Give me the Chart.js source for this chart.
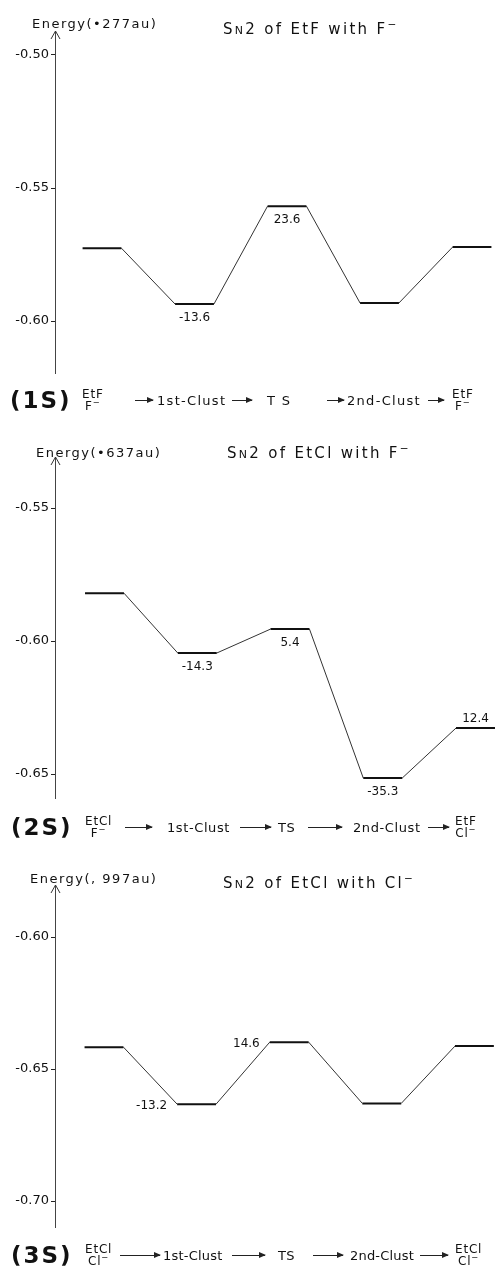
<!DOCTYPE html>
<html>
<head>
<meta charset="utf-8">
<script src="https://cdn.jsdelivr.net/npm/chart.js@4.4.1/dist/chart.umd.min.js"></script>
<style>
  body { margin: 0; background: #fff; }
  #page { position: relative; width: 495px; height: 1271px; overflow: hidden; font-family: "DejaVu Sans", sans-serif; color: #111; }
  canvas { position: absolute; left: 0; }
  .txt { position: absolute; white-space: nowrap; transform: translateY(-50%); }
  .elabel { font-size: 13px; letter-spacing: 1.5px; }
  .title { font-size: 15px; letter-spacing: 2.3px; }
  .title .sc { font-size: 11px; }
  .title sup, .step sup, .stack sup { font-size: 0.7em; line-height: 0; }
  .tag { font-size: 23px; font-weight: bold; letter-spacing: 2px; }
  .step { font-size: 13px; }
  .stack { font-size: 12px; line-height: 12px; text-align: center; letter-spacing: 0.8px; }
  .arrow { position: absolute; height: 1px; background: #222; }
  .arrow::after { content: ""; position: absolute; right: -1px; top: -3px; border-left: 7px solid #222; border-top: 3.5px solid transparent; border-bottom: 3.5px solid transparent; }
</style>
</head>
<body>
<div id="page"></div>
<script>
//reaction path steps (x categories)
var steps = ['reactants', '1st-Clust', 'TS', '2nd-Clust', 'products'];

//energies (au, offset shown in the axis label)
var energy1 = [-0.5726, -0.5936, -0.5568, -0.5932, -0.5722];
var energy2 = [-0.5820, -0.6045, -0.5955, -0.6515, -0.6327];
var energy3 = [-0.6417, -0.6633, -0.6398, -0.6630, -0.6413];

//relative energies written next to levels (kcal/mol)
var notes1 = ['', '-13.6', '23.6', '', ''];
var notes2 = ['', '-14.3', '5.4', '-35.3', '12.4'];
var notes3 = ['', '-13.2', '14.6', '', ''];

//y tick labels
var ticks1 = [-0.50, -0.55, -0.60];
var ticks2 = [-0.55, -0.60, -0.65];
var ticks3 = [-0.60, -0.65, -0.70];

var FONT = '"DejaVu Sans", sans-serif';
var page = document.getElementById('page');

//panel layout
var panels = [
    { top: 0, height: 420, padTop: 31, padBottom: 47, yMin: -0.6195, yMax: -0.4910, c0: 102, sp: 92.5,
      energy: energy1, notes: notes1, notePos: ['', 'below', 'below', '', ''], ticks: ticks1,
      elabel: 'Energy(•277au)', ey: 23, ex: 32, titleHtml: 'S<span class="sc">N</span>2 of EtF with F<sup>−</sup>', ty: 29, tx: 223,
      rowY: 400, tag: '(1S)', tagX: 10, stepSpacing: 1.3,
      row: [['stack', 82, 'EtF', 'F<sup>−</sup>'], ['arrow', 135, 18], ['step', 157, '1st-Clust'], ['arrow', 232, 20],
            ['step', 267, 'T S'], ['arrow', 327, 17], ['step', 347, '2nd-Clust'], ['arrow', 428, 16], ['stack', 452, 'EtF', 'F<sup>−</sup>']] },
    { top: 420, height: 430, padTop: 37, padBottom: 52, yMin: -0.6590, yMax: -0.5308, c0: 104.5, sp: 92.75,
      energy: energy2, notes: notes2, notePos: ['', 'below', 'below', 'below', 'above'], ticks: ticks2,
      elabel: 'Energy(•637au)', ey: 32, ex: 36, titleHtml: 'S<span class="sc">N</span>2 of EtCl with F<sup>−</sup>', ty: 33, tx: 227,
      rowY: 407, tag: '(2S)', tagX: 11, stepSpacing: 0.6,
      row: [['stack', 85, 'EtCl', 'F<sup>−</sup>'], ['arrow', 125, 27], ['step', 167, '1st-Clust'], ['arrow', 240, 31],
            ['step', 278, 'TS'], ['arrow', 308, 34], ['step', 353, '2nd-Clust'], ['arrow', 428, 21], ['stack', 455, 'EtF', 'Cl<sup>−</sup>']] },
    { top: 850, height: 421, padTop: 35, padBottom: 44, yMin: -0.7098, yMax: -0.5803, c0: 104, sp: 92.6,
      energy: energy3, notes: notes3, notePos: ['', 'left', 'left', '', ''], ticks: ticks3,
      elabel: 'Energy(, 997au)', ey: 28, ex: 30, titleHtml: 'S<span class="sc">N</span>2 of EtCl with Cl<sup>−</sup>', ty: 33, tx: 223,
      rowY: 405, tag: '(3S)', tagX: 11, stepSpacing: 0.2,
      row: [['stack', 85, 'EtCl', 'Cl<sup>−</sup>'], ['arrow', 120, 40], ['step', 163, '1st-Clust'], ['arrow', 232, 33],
            ['step', 278, 'TS'], ['arrow', 313, 30], ['step', 350, '2nd-Clust'], ['arrow', 420, 28], ['stack', 455, 'EtCl', 'Cl<sup>−</sup>']] }
];

var HW = 0.21; //half width of a level, in category units

function addText(cls, x, y, html) {
    var d = document.createElement('div');
    d.className = 'txt ' + cls;
    d.style.left = x + 'px';
    d.style.top = y + 'px';
    d.innerHTML = html;
    page.appendChild(d);
    return d;
}

//arrow at top of the y axis + level annotations
var extrasPlugin = {
    id: 'extras',
    afterDraw: function (chart) {
        var ctx = chart.ctx, a = chart.chartArea;
        var p = chart.options.plugins.extras;
        ctx.save();
        ctx.strokeStyle = '#333';
        ctx.lineWidth = 1;
        ctx.beginPath();
        ctx.moveTo(a.left - 4, a.top + 8);
        ctx.lineTo(a.left + 0.5, a.top);
        ctx.lineTo(a.left + 5, a.top + 8);
        ctx.stroke();

        var xs = chart.scales.x, ys = chart.scales.y;
        ctx.fillStyle = '#111';
        ctx.font = '12px ' + FONT;
        ctx.textBaseline = 'middle';
        for (var i = 0; i < p.notes.length; i++) {
            if (!p.notes[i]) continue;
            var px = xs.getPixelForValue(i), py = ys.getPixelForValue(p.energy[i]);
            if (p.pos[i] == 'below') {
                ctx.textAlign = 'center';
                ctx.fillText(p.notes[i], px, py + 14);
            } else if (p.pos[i] == 'above') {
                ctx.textAlign = 'center';
                ctx.fillText(p.notes[i], px, py - 9);
            } else {
                ctx.textAlign = 'right';
                ctx.fillText(p.notes[i], xs.getPixelForValue(i - HW) - 10, py + 2);
            }
        }
        ctx.restore();
    }
};

panels.forEach(function (pn, k) {
    var canvas = document.createElement('canvas');
    canvas.width = 495;
    canvas.height = pn.height;
    canvas.style.top = pn.top + 'px';
    page.appendChild(canvas);

    //levels: flat segments, connectors: thin slanted lines
    var levels = [], links = [];
    for (var i = 0; i < pn.energy.length; i++) {
        levels.push({ x: i - HW, y: pn.energy[i] }, { x: i + HW, y: pn.energy[i] }, { x: i + HW, y: null });
        if (i < pn.energy.length - 1) {
            links.push({ x: i + HW, y: pn.energy[i] }, { x: i + 1 - HW, y: pn.energy[i + 1] }, { x: i + 1 - HW, y: null });
        }
    }

    var ticks = pn.ticks;
    new Chart(canvas, {
        type: 'scatter',
        data: {
            datasets: [
                { label: 'levels', data: levels, showLine: true, borderColor: '#111', borderWidth: 2, pointRadius: 0, spanGaps: false },
                { label: 'path', data: links, showLine: true, borderColor: '#333', borderWidth: 1, pointRadius: 0, spanGaps: false }
            ]
        },
        options: {
            responsive: false,
            animation: false,
            layout: { padding: { top: pn.padTop, bottom: pn.padBottom, left: 0, right: 0 } },
            plugins: {
                legend: { display: false },
                tooltip: { enabled: false },
                extras: { notes: pn.notes, pos: pn.notePos, energy: pn.energy }
            },
            scales: {
                x: {
                    type: 'linear',
                    display: false,
                    min: (55 - pn.c0) / pn.sp,
                    max: (495 - pn.c0) / pn.sp
                },
                y: {
                    type: 'linear',
                    min: pn.yMin,
                    max: pn.yMax,
                    afterFit: function (s) { s.width = 55; },
                    afterBuildTicks: function (s) { s.ticks = ticks.map(function (v) { return { value: v }; }); },
                    grid: { drawOnChartArea: false, tickLength: 4, color: '#222' },
                    border: { color: '#444', width: 1 },
                    ticks: {
                        color: '#111',
                        padding: 2,
                        font: { family: FONT, size: 13 },
                        callback: function (v) { return v.toFixed(2); }
                    }
                }
            }
        },
        plugins: [extrasPlugin]
    });

    //text around the chart
    addText('elabel', pn.ex, pn.top + pn.ey, pn.elabel);
    addText('title', pn.tx, pn.top + pn.ty, pn.titleHtml);
    addText('tag', pn.tagX, pn.top + pn.rowY, pn.tag);
    pn.row.forEach(function (it) {
        var y = pn.top + pn.rowY;
        if (it[0] == 'arrow') {
            var a = document.createElement('div');
            a.className = 'arrow';
            a.style.left = it[1] + 'px';
            a.style.top = y + 'px';
            a.style.width = it[2] + 'px';
            page.appendChild(a);
        } else if (it[0] == 'step') {
            addText('step', it[1], y, it[2]).style.letterSpacing = pn.stepSpacing + 'px';
        } else {
            addText('stack', it[1], y, it[2] + '<br>' + it[3]);
        }
    });
});
</script>
</body>
</html>
